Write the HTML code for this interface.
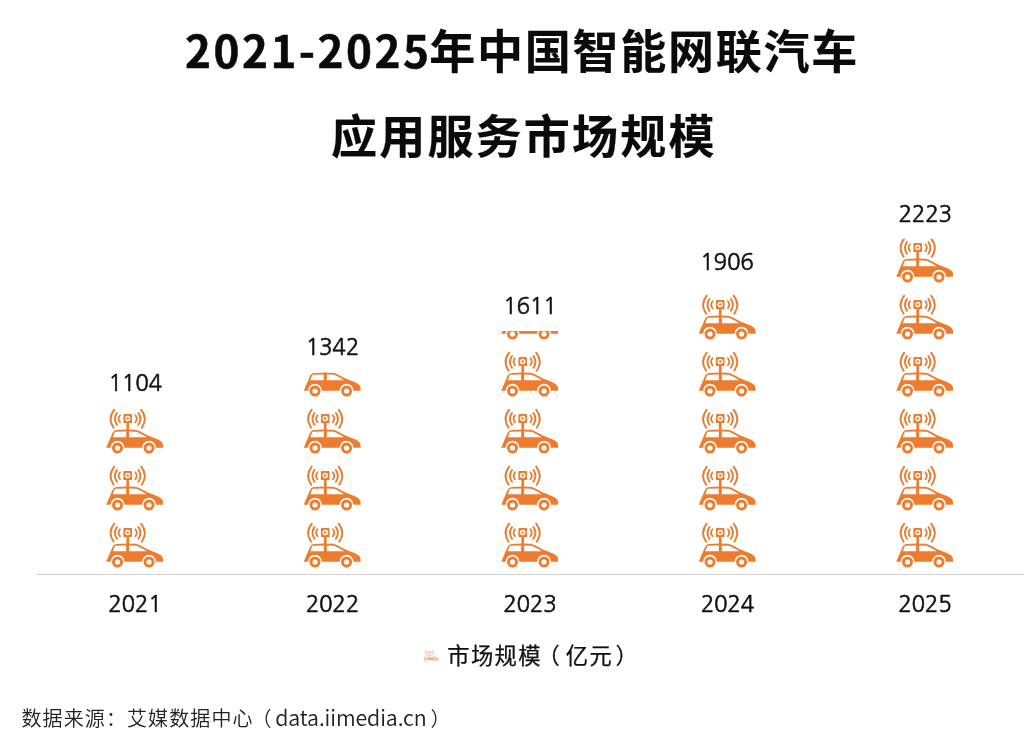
<!DOCTYPE html>
<html lang="zh-CN">
<head>
<meta charset="utf-8">
<title>2021-2025年中国智能网联汽车应用服务市场规模</title>
<style>
html,body{margin:0;padding:0;background:#fff;}
body{width:1032px;height:738px;position:relative;overflow:hidden;
  font-family:"Noto Sans CJK SC","Liberation Sans",sans-serif;color:#111;}
.t{position:absolute;white-space:nowrap;line-height:1;}
.title{font-weight:700;font-size:46px;color:#0a0a0a;letter-spacing:2.2px;-webkit-text-stroke:0.2px #0a0a0a;}
.title .d{font-size:44px;letter-spacing:2.5px;margin-right:-2.2px;-webkit-text-stroke:0.5px #0a0a0a;}
#t1{letter-spacing:1.75px;}
.val,.yr{width:120px;margin-left:-60px;text-align:center;font-size:22.5px;color:#111;font-family:"NanumGothic","Liberation Sans",sans-serif;letter-spacing:-0.3px;-webkit-text-stroke:0.55px #111;}
.legend{font-size:22.3px;color:#111;letter-spacing:1.4px;-webkit-text-stroke:0.25px #111;}
.src{font-size:20px;color:#222;letter-spacing:1.1px;font-weight:350;}
svg{position:absolute;left:0;top:0;}
</style>
</head>
<body>
<div class="t title" id="t1" style="left:185px;top:24.7px;"><span class="d">2021-2025</span>年中国智能网联汽车</div>
<div class="t title" id="t2" style="left:331px;top:110.4px;">应用服务市场规模</div>

<svg width="1032" height="738" viewBox="0 0 1032 738">
  <defs>
    <g id="car" fill="#ee7c2e">
      <!-- signal arcs -->
      <g fill="none" stroke="#e67f36" stroke-width="2" stroke-linecap="round">
        <path d="M8.2,1.7 Q1.3,10.7 7.6,19.8"/>
        <path d="M11,5 Q7,10.9 11,16.8"/>
        <path d="M14,7.3 Q11.2,10.8 14,14.2" stroke-width="1.8"/>
        <path d="M35.2,1.7 Q42.1,10.7 35.8,19.8"/>
        <path d="M32.4,5 Q36.4,10.9 32.4,16.8"/>
        <path d="M29.4,7.3 Q32.2,10.8 29.4,14.2" stroke-width="1.8"/>
      </g>
      <!-- antenna -->
      <rect x="17.4" y="6.1" width="8.6" height="9" rx="0.9"/>
      <circle cx="21.7" cy="10.5" r="2.7" fill="#fff"/>
      <circle cx="21.7" cy="10.5" r="1.25"/>
      <rect x="20.4" y="14.8" width="2.7" height="17"/>
      <!-- body -->
      <path fill-rule="evenodd" d="M0.2,39.7 L6.3,25.4 Q7.7,22.2 10.8,21.9 Q20,21 29.5,21.8 Q32.5,22.1 41.3,27.2 Q47.5,29.6 52,31.4 Q57,33.4 57.1,37.6 L57.1,39.7 L49.9,39.7 A6.85,6.85 0 0 0 36.2,39.7 L18.35,39.7 A6.85,6.85 0 0 0 4.65,39.7 Z
        M9.6,23.8 Q15,23.3 20.4,23.4 L20.4,29.2 L6.8,29.2 L8.5,24.7 Q8.9,23.8 9.6,23.7 Z
        M23.1,23.4 Q27,23.4 30.4,23.8 Q31.8,24 40.6,29.2 L23.1,29.2 Z"/>
      <!-- wheels -->
      <circle cx="11.5" cy="40" r="4.05" fill="none" stroke="#ee7c2e" stroke-width="2.9"/>
      <circle cx="43.05" cy="40" r="4.05" fill="none" stroke="#ee7c2e" stroke-width="2.9"/>
    </g>
    <!-- column of 6 stacked cars, bottom-most car's origin at (0,0) -->
    <g id="stack">
      <use href="#car" x="0" y="0"/>
      <use href="#car" x="0" y="-57"/>
      <use href="#car" x="0" y="-114"/>
      <use href="#car" x="0" y="-171"/>
      <use href="#car" x="0" y="-228"/>
      <use href="#car" x="0" y="-285"/>
    </g>
    <clipPath id="c1"><rect x="90" y="407.5" width="90" height="170"/></clipPath>
    <clipPath id="c2"><rect x="288" y="372.6" width="90" height="210"/></clipPath>
    <clipPath id="c3"><rect x="485" y="331" width="90" height="250"/></clipPath>
    <clipPath id="c4"><rect x="683" y="286.5" width="90" height="300"/></clipPath>
    <clipPath id="c5"><rect x="880" y="238.8" width="90" height="340"/></clipPath>
  </defs>

  <!-- axis line -->
  <rect x="36" y="574" width="988" height="1" fill="#d2d2d2"/>

  <g clip-path="url(#c1)"><use href="#stack" x="106" y="522"/></g>
  <g clip-path="url(#c2)"><use href="#stack" x="303.5" y="522"/></g>
  <g clip-path="url(#c3)"><use href="#stack" x="501" y="522"/></g>
  <g clip-path="url(#c4)"><use href="#stack" x="698.5" y="522"/></g>
  <g clip-path="url(#c5)"><use href="#stack" x="896" y="522"/></g>

  <!-- legend icon -->
  <use href="#car" transform="translate(423.5,649.5) scale(0.272)" opacity="0.6"/>
</svg>

<div class="t val" style="left:135.2px;top:371.6px;">1104</div>
<div class="t val" style="left:332.3px;top:335.5px;">1342</div>
<div class="t val" style="left:529.8px;top:294.7px;">1611</div>
<div class="t val" style="left:726.9px;top:250.9px;">1906</div>
<div class="t val" style="left:925.2px;top:202.6px;">2223</div>

<div class="t yr" style="left:134.8px;top:592.6px;">2021</div>
<div class="t yr" style="left:332.3px;top:592.6px;">2022</div>
<div class="t yr" style="left:529.8px;top:592.6px;">2023</div>
<div class="t yr" style="left:727.3px;top:592.6px;">2024</div>
<div class="t yr" style="left:924.8px;top:592.6px;">2025</div>

<div class="t legend" style="left:447.2px;top:642.6px;">市场规模<span style="margin-left:-4.6px;margin-right:4.6px">（</span>亿元<span style="margin-left:2.3px">）</span></div>
<div class="t src" style="left:21.5px;top:706.3px;">数据来源：艾媒数据中心<span style="margin-left:-2.2px">（</span><span style="font-size:21.4px;letter-spacing:-0.1px;margin-left:2.7px;margin-right:4px">data.iimedia.cn</span>）</div>
</body>
</html>
